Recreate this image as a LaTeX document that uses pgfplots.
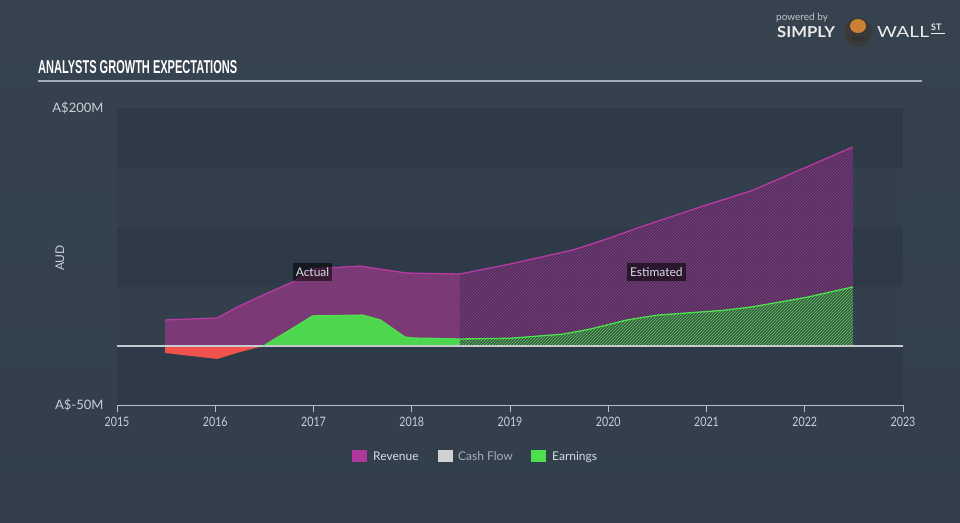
\documentclass[border=0pt]{standalone}
\usepackage{pgfplots}
\pgfplotsset{compat=1.18}
\usepackage{fontspec}
\setmainfont{Lato}
\newfontfamily\tickfont[FakeStretch=0.82]{Lato}
\newfontfamily\titlefont{Liberation Sans}
\usetikzlibrary{patterns}
\definecolor{bgtop}{HTML}{36434F}
\definecolor{bgbot}{HTML}{323E4C}
\definecolor{banddark}{HTML}{2E3A48}
\definecolor{bandlight}{HTML}{333F4D}
\definecolor{rulecol}{HTML}{A3ABB4}
\definecolor{revline}{HTML}{B83AA4}
\definecolor{revfill}{HTML}{7B3A75}
\definecolor{revhbg}{HTML}{50305A}
\definecolor{revhatch}{HTML}{883C86}
\definecolor{greenline}{HTML}{4EE04E}
\definecolor{greenfill}{HTML}{4FD64F}
\definecolor{greenhbg}{HTML}{3A5A45}
\definecolor{greenhatch}{HTML}{5AC85A}
\definecolor{redfill}{HTML}{F0524C}
\definecolor{zerocol}{HTML}{C5CACF}
\definecolor{axiscol}{HTML}{B4C0CC}
\definecolor{ticktext}{HTML}{C8D0D8}
\definecolor{legtext}{HTML}{D8DDE2}
\definecolor{legdim}{HTML}{A8AFB6}
\definecolor{cashcol}{HTML}{D2D2D2}
\definecolor{legrev}{HTML}{B0389C}
\definecolor{leggreen}{HTML}{4DE04D}
\definecolor{logogray}{HTML}{C0C4C8}
\begin{document}
\begin{tikzpicture}[x=1pt,y=1pt]
\shade[top color=bgtop,bottom color=bgbot] (0,0) rectangle (960,522);
% title
\node[anchor=base west, inner sep=0, text=white] at (38,448) {\resizebox{199pt}{13pt}{\titlefont\bfseries ANALYSTS GROWTH EXPECTATIONS}};
\draw[rulecol, line width=1.5pt] (38,441) -- (922,441);
% logo
\node[anchor=base west, inner sep=0, text=logogray, font=\fontsize{10}{10}\selectfont] at (776,501) {powered by};
\node[anchor=base west, inner sep=0, text=white!92!black] at (777,484) {\resizebox{58pt}{11pt}{\bfseries SIMPLY}};
\fill[black!55!gray] (858,490) circle (14);
\fill[brown!80!orange] (858,496) ellipse (8 and 7);
\fill[black!80] (852,481) rectangle (864,486);
\node[anchor=base west, inner sep=0, text=white!92!black] at (877,484) {\resizebox{52pt}{11pt}{WALL}};
\node[anchor=base west, inner sep=0, text=white!92!black, font=\bfseries\fontsize{9}{9}\selectfont] at (931,491) {ST};
\draw[white!92!black, line width=1pt] (931,488) -- (945,488);
% axis label
\node[rotate=90, text=ticktext, font=\fontsize{12}{12}\selectfont] at (60,264) {AUD};
\begin{axis}[
  at={(117pt,116.6pt)}, anchor=south west, scale only axis,
  width=786pt, height=297pt,
  xmin=2015, xmax=2023, ymin=-50, ymax=200,
  axis on top,
  axis x line*=bottom, axis y line*=left,
  y axis line style={draw=none},
  x axis line style={axiscol, line width=1pt},
  xtick={2015,2016,2017,2018,2019,2020,2021,2022,2023},
  xticklabels={2015,2016,2017,2018,2019,2020,2021,2022,2023},
  xtick align=outside, major tick length=7pt,
  xtick style={axiscol, line width=1pt},
  xticklabel style={font=\tickfont\fontsize{13}{13}\selectfont, text=ticktext, yshift=-1pt},
  ytick={-50,200},
  yticklabels={A\$-50M,A\$200M},
  ytick style={draw=none},
  yticklabel style={font=\fontsize{13}{13}\selectfont, text=ticktext, xshift=-10pt},
  clip=false,
]
\fill[banddark] (axis cs:2015,150) rectangle (axis cs:2023,200);
\fill[bandlight] (axis cs:2015,100) rectangle (axis cs:2023,150);
\fill[banddark] (axis cs:2015,50) rectangle (axis cs:2023,100);
\fill[bandlight] (axis cs:2015,0) rectangle (axis cs:2023,50);
\fill[banddark] (axis cs:2015,-50) rectangle (axis cs:2023,0);
% revenue fills
\addplot[draw=none, fill=revfill] coordinates {
 (2015.49,21.9) (2016.02,23.6) (2016.23,33) (2016.49,43) (2016.79,54) (2016.99,64.8) (2017.47,67.3) (2017.95,61.4) (2018.49,60.6)} \closedcycle;
\addplot[draw=none, fill=revhbg, postaction={pattern=north east lines, pattern color=revhatch}] coordinates {
 (2018.49,60.6) (2019.0,69) (2019.64,80.8) (2020.0,90.5) (2020.32,100) (2021.0,118.7) (2021.47,131) (2022.02,150.7) (2022.49,167.5)} \closedcycle;
% earnings fills
\addplot[draw=none, fill=redfill] coordinates {
 (2015.49,-5.9) (2016.02,-10.9) (2016.23,-5.6) (2016.49,0)} \closedcycle;
\addplot[draw=none, fill=greenfill] coordinates {
 (2016.49,0) (2016.79,15) (2016.99,25.3) (2017.50,26) (2017.68,21.9) (2017.93,7.6) (2018.01,6.7) (2018.49,5.9)} \closedcycle;
\addplot[draw=none, fill=greenhbg, postaction={pattern=north east lines, pattern color=greenhatch}] coordinates {
 (2018.49,5.9) (2019.0,6.5) (2019.54,10) (2019.82,14.3) (2020.19,21.9) (2020.5,26) (2021.17,30) (2021.47,33) (2022.02,41) (2022.49,49.7)} \closedcycle;
% zero line
\draw[zerocol, line width=1.2pt] (axis cs:2015,0) -- (axis cs:2023,0);
% lines
\addplot[revline, line width=1.3pt] coordinates {
 (2015.49,21.9) (2016.02,23.6) (2016.23,33) (2016.49,43) (2016.79,54) (2016.99,64.8) (2017.47,67.3) (2017.95,61.4) (2018.49,60.6)
 (2019.0,69) (2019.64,80.8) (2020.0,90.5) (2020.32,100) (2021.0,118.7) (2021.47,131) (2022.02,150.7) (2022.49,167.5)};
\addplot[greenline, line width=1.3pt] coordinates {
 (2016.49,0) (2016.79,15) (2016.99,25.3) (2017.50,26) (2017.68,21.9) (2017.93,7.6) (2018.01,6.7) (2018.49,5.9)
 (2019.0,6.5) (2019.54,10) (2019.82,14.3) (2020.19,21.9) (2020.5,26) (2021.17,30) (2021.47,33) (2022.02,41) (2022.49,49.7)};
% labels
\node[fill=black, fill opacity=0.55, text opacity=1, text=legtext, font=\fontsize{12}{12}\selectfont, inner xsep=3pt, inner ysep=5pt] at (axis cs:2016.99,62.3) {Actual};
\node[fill=black, fill opacity=0.55, text opacity=1, text=legtext, font=\fontsize{12}{12}\selectfont, inner xsep=3pt, inner ysep=5pt] at (axis cs:2020.49,62.3) {Estimated};
\end{axis}
% legend
\fill[legrev] (352,60) rectangle (367,72);
\node[anchor=base west, inner sep=0, text=legtext, font=\fontsize{12}{12}\selectfont] at (373,61.5) {Revenue};
\fill[cashcol] (438,60) rectangle (453,72);
\node[anchor=base west, inner sep=0, text=legdim, font=\fontsize{12}{12}\selectfont] at (458,61.5) {Cash Flow};
\fill[leggreen] (531,60) rectangle (546,72);
\node[anchor=base west, inner sep=0, text=legtext, font=\fontsize{12}{12}\selectfont] at (552,61.5) {Earnings};
\pgfresetboundingbox
\path (0,0) rectangle (960,522);
\end{tikzpicture}
\end{document}
